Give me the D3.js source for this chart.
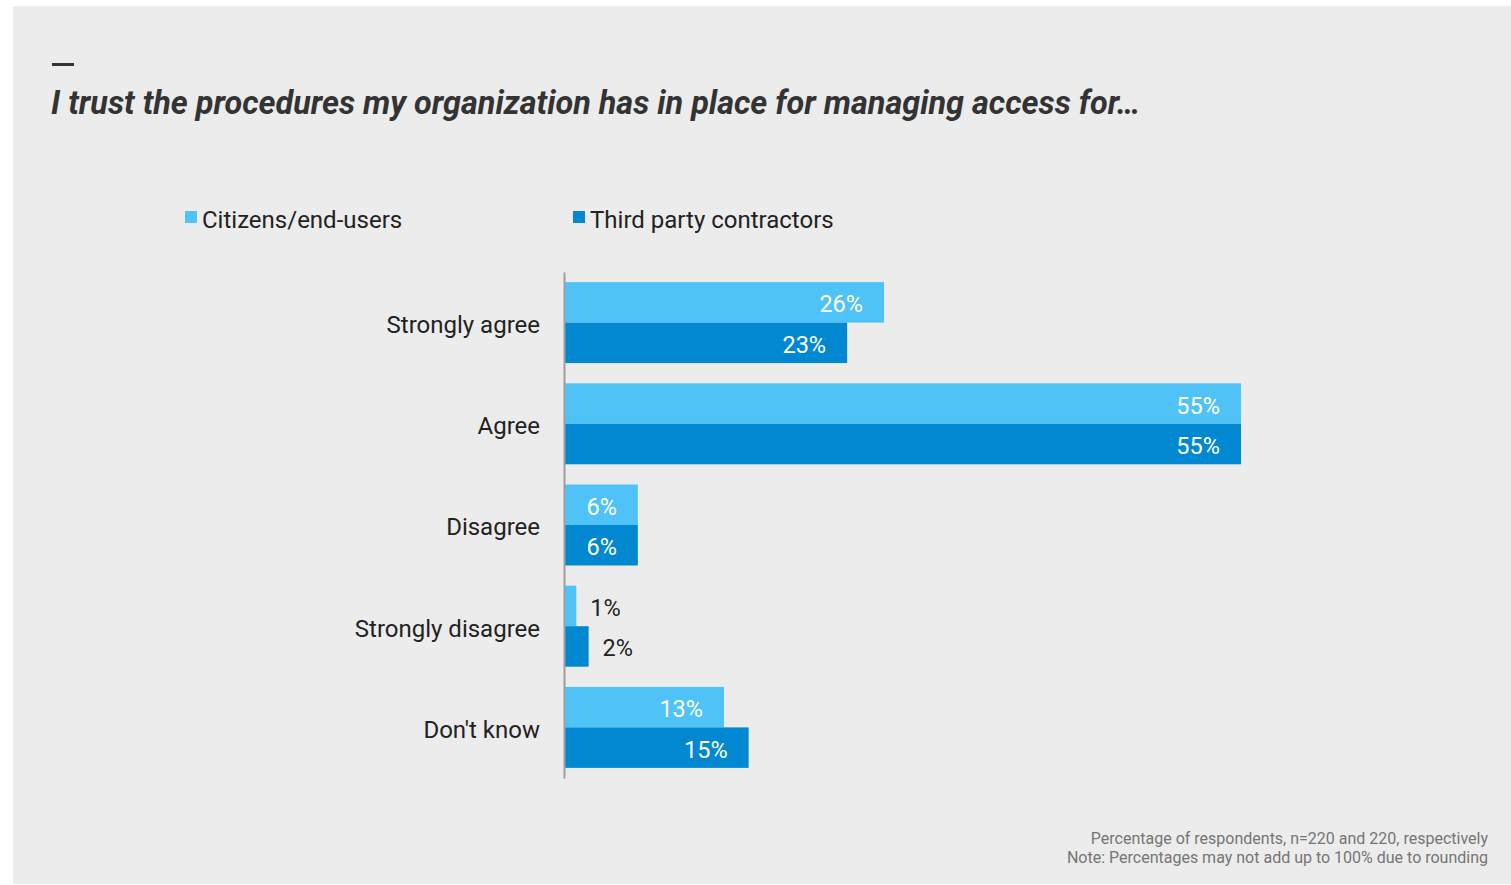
<!DOCTYPE html>
<html>
<head>
<meta charset="utf-8">
<script src="https://cdn.jsdelivr.net/npm/d3@7/dist/d3.min.js"></script>
<style>
  html, body { margin: 0; padding: 0; background: #ffffff; }
  svg { display: block; font-family: Roboto, "Noto Sans", sans-serif; }
</style>
</head>
<body>
<svg id="chart" width="1511" height="885"></svg>
<script>
// Survey answers and shares (%) per audience
const categories = ["Strongly agree", "Agree", "Disagree", "Strongly disagree", "Don't know"];
const seriesNames = ["Citizens/end-users", "Third party contractors"];
const citizens = [26, 55, 6, 1, 13];
const contractors = [23, 55, 6, 2, 15];
const colors = ["#4fc3f7", "#0288d1"];

const title = "I trust the procedures my organization has in place for managing access for\u2026";
const notes = [
  "Percentage of respondents, n=220 and 220, respectively",
  "Note: Percentages may not add up to 100% due to rounding"
];

const svg = d3.select("#chart");

// Panel background
svg.append("rect")
  .attr("x", 13).attr("y", 6)
  .attr("width", 1498).attr("height", 878)
  .attr("fill", "#ececec");

// Title with accent dash
svg.append("rect")
  .attr("x", 52).attr("y", 63).attr("width", 22).attr("height", 3)
  .attr("fill", "#333333");
svg.append("text")
  .attr("x", 51).attr("y", 114)
  .attr("font-size", 32.4).attr("font-weight", 700).attr("font-style", "italic")
  .attr("fill", "#333333")
  .text(title);

// Legend
const legendX = [185, 573];
seriesNames.forEach((name, i) => {
  svg.append("rect")
    .attr("x", legendX[i]).attr("y", 211)
    .attr("width", 12).attr("height", 12)
    .attr("fill", colors[i]);
  svg.append("text")
    .attr("x", legendX[i] + 17).attr("y", 228)
    .attr("font-size", 24).attr("fill", "#222222")
    .text(name);
});

// Scales
const x0 = 564;
const x = d3.scaleLinear().domain([0, 55]).range([x0, 1241]);
const y = d3.scaleBand().domain(categories).range([272, 778]).paddingInner(0.2).paddingOuter(0.1);
const sub = d3.scaleBand().domain([0, 1]).range([0, y.bandwidth()]);

const rows = categories.map((c, i) => ({ cat: c, vals: [citizens[i], contractors[i]] }));

const groups = svg.append("g").selectAll("g")
  .data(rows).join("g")
  .attr("transform", d => `translate(0,${y(d.cat)})`);

groups.selectAll("rect")
  .data(d => d.vals.map((v, j) => ({ v, j })))
  .join("rect")
  .attr("x", x(0))
  .attr("y", d => sub(d.j))
  .attr("width", d => x(d.v) - x(0))
  .attr("height", sub.bandwidth())
  .attr("fill", d => colors[d.j]);

// Value labels: inside the bar when it is wide enough, otherwise just past its end
groups.selectAll("text.val")
  .data(d => d.vals.map((v, j) => ({ v, j })))
  .join("text")
  .attr("class", "val")
  .attr("font-size", 23.5)
  .attr("dominant-baseline", "central")
  .attr("y", d => sub(d.j) + sub.bandwidth() / 2 + 2)
  .each(function(d) {
    const end = x(d.v);
    const inside = end - x(0) > 40;
    d3.select(this)
      .attr("x", inside ? end - 21 : end + 14)
      .attr("text-anchor", inside ? "end" : "start")
      .attr("fill", inside ? "#ffffff" : "#222222");
  })
  .text(d => d.v + "%");

// Category axis
const axis = d3.axisLeft(y).tickSize(0).tickPadding(24);
const axisG = svg.append("g")
  .attr("transform", `translate(${x0},0)`)
  .call(axis);
axisG.select(".domain").attr("stroke", "#9e9e9e").attr("stroke-width", 2);
axisG.selectAll("text")
  .attr("font-size", 24)
  .attr("fill", "#222222")
  .attr("font-family", "Roboto, sans-serif")
  .attr("dy", "0.43em");

// Footnotes
notes.forEach((t, i) => {
  svg.append("text")
    .attr("x", 1488).attr("y", 844 + i * 19)
    .attr("text-anchor", "end")
    .attr("font-size", 16).attr("fill", "#757575")
    .text(t);
});
</script>
</body>
</html>
